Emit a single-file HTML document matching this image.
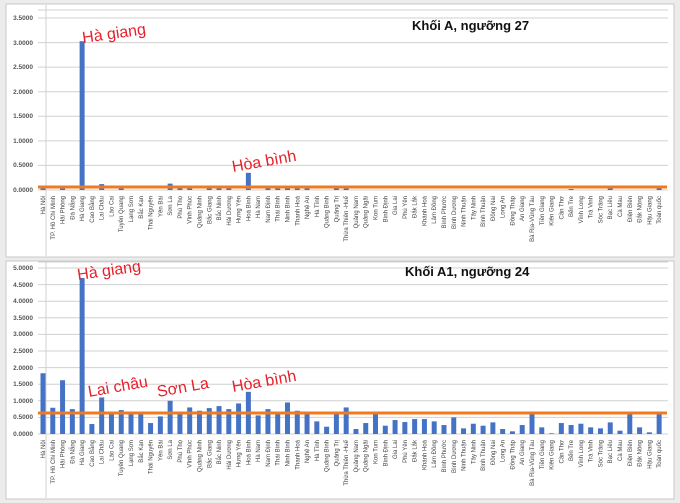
<!DOCTYPE html>
<html><head><meta charset="utf-8"><style>
body{margin:0;background:#ececec;}
svg{display:block;font-family:"Liberation Sans",sans-serif;}
.l text{font-size:6px;fill:#444;text-anchor:end;}
.y text{font-size:6.5px;fill:#555;font-weight:bold;text-anchor:end;}
.g line{stroke:#d0d0d0;stroke-width:1;}
.a{fill:#e8202a;font-size:16px;}
</style></head><body>
<svg width="680" height="503" viewBox="0 0 680 503">
<rect x="0" y="0" width="680" height="503" fill="#ececec"/>
<rect x="6" y="4" width="668" height="253" fill="#fff" stroke="#c8c8c8"/>
<rect x="6" y="261" width="668" height="238" fill="#fff" stroke="#c8c8c8"/>

<!-- TOP CHART -->
<g class="g">
<line x1="38" x2="668" y1="10" y2="10"/>
<line x1="38" x2="668" y1="18" y2="18"/><line x1="38" x2="668" y1="42.6" y2="42.6"/><line x1="38" x2="668" y1="67.1" y2="67.1"/><line x1="38" x2="668" y1="91.7" y2="91.7"/><line x1="38" x2="668" y1="116.3" y2="116.3"/><line x1="38" x2="668" y1="140.9" y2="140.9"/><line x1="38" x2="668" y1="165.4" y2="165.4"/><line x1="38" x2="668" y1="190" y2="190"/>
<line x1="46" x2="46" y1="5" y2="256" stroke="#999"/>
</g>
<g class="y">
<text x="33" y="20">3.5000</text><text x="33" y="45">3.0000</text><text x="33" y="69">2.5000</text><text x="33" y="94">2.0000</text><text x="33" y="118">1.5000</text><text x="33" y="143">1.0000</text><text x="33" y="167">0.5000</text><text x="33" y="192">0.0000</text>
</g>
<g transform="translate(40.5,190) scale(9.78,-49.1)" fill="#4472c4">
<rect x="0" width="0.51" height="0.03"/><rect x="2" width="0.51" height="0.03"/><rect x="4" width="0.51" height="3.03"/><rect x="6" width="0.51" height="0.12"/><rect x="8" width="0.51" height="0.03"/><rect x="13" width="0.51" height="0.13"/><rect x="14" width="0.51" height="0.03"/><rect x="15" width="0.51" height="0.03"/><rect x="17" width="0.51" height="0.03"/><rect x="18" width="0.51" height="0.03"/><rect x="19" width="0.51" height="0.03"/><rect x="21" width="0.51" height="0.35"/><rect x="23" width="0.51" height="0.03"/><rect x="24" width="0.51" height="0.03"/><rect x="25" width="0.51" height="0.03"/><rect x="26" width="0.51" height="0.03"/><rect x="27" width="0.51" height="0.03"/><rect x="30" width="0.51" height="0.03"/><rect x="31" width="0.51" height="0.03"/><rect x="54" width="0.51" height="0.02"/><rect x="58" width="0.51" height="0.03"/><rect x="63" width="0.51" height="0.03"/>
</g>
<line x1="38" x2="667" y1="187" y2="187" stroke="#f07a1f" stroke-width="3"/>
<text x="412" y="30" font-size="13" font-weight="bold" fill="#111">Khối A, ngưỡng 27</text>
<text class="a" x="83" y="43" transform="rotate(-8 83 43)">Hà giang</text>
<text class="a" x="233" y="172" transform="rotate(-10 233 172)">Hòa bình</text>
<g class="l" transform="translate(2,196)">
<text transform="translate(43) rotate(-90)">Hà Nội</text><text transform="translate(52.8) rotate(-90)">TP. Hồ Chí Minh</text><text transform="translate(62.6) rotate(-90)">Hải Phòng</text><text transform="translate(72.3) rotate(-90)">Đà Nẵng</text><text transform="translate(82.1) rotate(-90)">Hà Giang</text><text transform="translate(91.9) rotate(-90)">Cao Bằng</text><text transform="translate(101.7) rotate(-90)">Lai Châu</text><text transform="translate(111.5) rotate(-90)">Lào Cai</text><text transform="translate(121.2) rotate(-90)">Tuyên Quang</text><text transform="translate(131) rotate(-90)">Lạng Sơn</text><text transform="translate(140.8) rotate(-90)">Bắc Kạn</text><text transform="translate(150.6) rotate(-90)">Thái Nguyên</text><text transform="translate(160.4) rotate(-90)">Yên Bái</text><text transform="translate(170.1) rotate(-90)">Sơn La</text><text transform="translate(179.9) rotate(-90)">Phú Thọ</text><text transform="translate(189.7) rotate(-90)">Vĩnh Phúc</text><text transform="translate(199.5) rotate(-90)">Quảng Ninh</text><text transform="translate(209.3) rotate(-90)">Bắc Giang</text><text transform="translate(219) rotate(-90)">Bắc Ninh</text><text transform="translate(228.8) rotate(-90)">Hải Dương</text><text transform="translate(238.6) rotate(-90)">Hưng Yên</text><text transform="translate(248.4) rotate(-90)">Hoà Bình</text><text transform="translate(258.2) rotate(-90)">Hà Nam</text><text transform="translate(267.9) rotate(-90)">Nam Định</text><text transform="translate(277.7) rotate(-90)">Thái Bình</text><text transform="translate(287.5) rotate(-90)">Ninh Bình</text><text transform="translate(297.3) rotate(-90)">Thanh Hoá</text><text transform="translate(307.1) rotate(-90)">Nghệ An</text><text transform="translate(316.8) rotate(-90)">Hà Tĩnh</text><text transform="translate(326.6) rotate(-90)">Quảng Bình</text><text transform="translate(336.4) rotate(-90)">Quảng Trị</text><text transform="translate(346.2) rotate(-90)">Thừa Thiên -Huế</text><text transform="translate(356) rotate(-90)">Quảng Nam</text><text transform="translate(365.7) rotate(-90)">Quảng Ngãi</text><text transform="translate(375.5) rotate(-90)">Kon Tum</text><text transform="translate(385.3) rotate(-90)">Bình Định</text><text transform="translate(395.1) rotate(-90)">Gia Lai</text><text transform="translate(404.9) rotate(-90)">Phú Yên</text><text transform="translate(414.6) rotate(-90)">Đắk Lắk</text><text transform="translate(424.4) rotate(-90)">Khánh Hoà</text><text transform="translate(434.2) rotate(-90)">Lâm Đồng</text><text transform="translate(444) rotate(-90)">Bình Phước</text><text transform="translate(453.8) rotate(-90)">Bình Dương</text><text transform="translate(463.5) rotate(-90)">Ninh Thuận</text><text transform="translate(473.3) rotate(-90)">Tây Ninh</text><text transform="translate(483.1) rotate(-90)">Bình Thuận</text><text transform="translate(492.9) rotate(-90)">Đồng Nai</text><text transform="translate(502.7) rotate(-90)">Long An</text><text transform="translate(512.4) rotate(-90)">Đồng Tháp</text><text transform="translate(522.2) rotate(-90)">An Giang</text><text transform="translate(532) rotate(-90)">Bà Rịa-Vũng Tàu</text><text transform="translate(541.8) rotate(-90)">Tiền Giang</text><text transform="translate(551.6) rotate(-90)">Kiên Giang</text><text transform="translate(561.3) rotate(-90)">Cần Thơ</text><text transform="translate(571.1) rotate(-90)">Bến Tre</text><text transform="translate(580.9) rotate(-90)">Vĩnh Long</text><text transform="translate(590.7) rotate(-90)">Trà Vinh</text><text transform="translate(600.5) rotate(-90)">Sóc Trăng</text><text transform="translate(610.2) rotate(-90)">Bạc Liêu</text><text transform="translate(620) rotate(-90)">Cà Mau</text><text transform="translate(629.8) rotate(-90)">Điện Biên</text><text transform="translate(639.6) rotate(-90)">Đắk Nông</text><text transform="translate(649.4) rotate(-90)">Hậu Giang</text><text transform="translate(659.1) rotate(-90)">Toàn quốc</text>
</g>

<!-- BOTTOM CHART -->
<g class="g">
<line x1="38" x2="668" y1="262" y2="262"/>
<line x1="38" x2="668" y1="268" y2="268"/><line x1="38" x2="668" y1="284.6" y2="284.6"/><line x1="38" x2="668" y1="301.2" y2="301.2"/><line x1="38" x2="668" y1="317.8" y2="317.8"/><line x1="38" x2="668" y1="334.4" y2="334.4"/><line x1="38" x2="668" y1="351" y2="351"/><line x1="38" x2="668" y1="367.6" y2="367.6"/><line x1="38" x2="668" y1="384.2" y2="384.2"/><line x1="38" x2="668" y1="400.8" y2="400.8"/><line x1="38" x2="668" y1="417.4" y2="417.4"/><line x1="38" x2="668" y1="434" y2="434"/>
<line x1="46" x2="46" y1="262" y2="498" stroke="#999"/>
</g>
<g class="y">
<text x="33" y="270">5.0000</text><text x="33" y="287">4.5000</text><text x="33" y="303">4.0000</text><text x="33" y="320">3.5000</text><text x="33" y="336">3.0000</text><text x="33" y="353">2.5000</text><text x="33" y="370">2.0000</text><text x="33" y="386">1.5000</text><text x="33" y="403">1.0000</text><text x="33" y="419">0.5000</text><text x="33" y="436">0.0000</text>
</g>
<g transform="translate(40.5,434) scale(9.78,-33.2)" fill="#4472c4">
<rect x="0" width="0.51" height="1.83"/><rect x="1" width="0.51" height="0.79"/><rect x="2" width="0.51" height="1.62"/><rect x="3" width="0.51" height="0.75"/><rect x="4" width="0.51" height="4.7"/><rect x="5" width="0.51" height="0.3"/><rect x="6" width="0.51" height="1.1"/><rect x="7" width="0.51" height="0.6"/><rect x="8" width="0.51" height="0.72"/><rect x="9" width="0.51" height="0.6"/><rect x="10" width="0.51" height="0.6"/><rect x="11" width="0.51" height="0.33"/><rect x="12" width="0.51" height="0.53"/><rect x="13" width="0.51" height="1.0"/><rect x="14" width="0.51" height="0.6"/><rect x="15" width="0.51" height="0.8"/><rect x="16" width="0.51" height="0.7"/><rect x="17" width="0.51" height="0.78"/><rect x="18" width="0.51" height="0.84"/><rect x="19" width="0.51" height="0.75"/><rect x="20" width="0.51" height="0.92"/><rect x="21" width="0.51" height="1.27"/><rect x="22" width="0.51" height="0.56"/><rect x="23" width="0.51" height="0.75"/><rect x="24" width="0.51" height="0.6"/><rect x="25" width="0.51" height="0.95"/><rect x="26" width="0.51" height="0.7"/><rect x="27" width="0.51" height="0.6"/><rect x="28" width="0.51" height="0.38"/><rect x="29" width="0.51" height="0.22"/><rect x="30" width="0.51" height="0.6"/><rect x="31" width="0.51" height="0.8"/><rect x="32" width="0.51" height="0.15"/><rect x="33" width="0.51" height="0.33"/><rect x="34" width="0.51" height="0.6"/><rect x="35" width="0.51" height="0.25"/><rect x="36" width="0.51" height="0.42"/><rect x="37" width="0.51" height="0.36"/><rect x="38" width="0.51" height="0.45"/><rect x="39" width="0.51" height="0.45"/><rect x="40" width="0.51" height="0.38"/><rect x="41" width="0.51" height="0.27"/><rect x="42" width="0.51" height="0.5"/><rect x="43" width="0.51" height="0.17"/><rect x="44" width="0.51" height="0.31"/><rect x="45" width="0.51" height="0.25"/><rect x="46" width="0.51" height="0.35"/><rect x="47" width="0.51" height="0.15"/><rect x="48" width="0.51" height="0.08"/><rect x="49" width="0.51" height="0.27"/><rect x="50" width="0.51" height="0.6"/><rect x="51" width="0.51" height="0.2"/><rect x="52" width="0.51" height="0.02"/><rect x="53" width="0.51" height="0.33"/><rect x="54" width="0.51" height="0.27"/><rect x="55" width="0.51" height="0.31"/><rect x="56" width="0.51" height="0.2"/><rect x="57" width="0.51" height="0.17"/><rect x="58" width="0.51" height="0.35"/><rect x="59" width="0.51" height="0.1"/><rect x="60" width="0.51" height="0.6"/><rect x="61" width="0.51" height="0.2"/><rect x="62" width="0.51" height="0.05"/><rect x="63" width="0.51" height="0.63"/>
</g>
<line x1="38" x2="667" y1="413" y2="413" stroke="#f07a1f" stroke-width="3"/>
<text x="405" y="276" font-size="13" font-weight="bold" fill="#111">Khối A1, ngưỡng 24</text>
<text class="a" x="78" y="280" transform="rotate(-8 78 280)">Hà giang</text>
<text class="a" x="89" y="397" transform="rotate(-10 89 397)">Lai châu</text>
<text class="a" x="158" y="397" transform="rotate(-10 158 397)">Sơn La</text>
<text class="a" x="233" y="392" transform="rotate(-10 233 392)">Hòa bình</text>
<g class="l" transform="translate(2,440)">
<text transform="translate(43) rotate(-90)">Hà Nội</text><text transform="translate(52.8) rotate(-90)">TP. Hồ Chí Minh</text><text transform="translate(62.6) rotate(-90)">Hải Phòng</text><text transform="translate(72.3) rotate(-90)">Đà Nẵng</text><text transform="translate(82.1) rotate(-90)">Hà Giang</text><text transform="translate(91.9) rotate(-90)">Cao Bằng</text><text transform="translate(101.7) rotate(-90)">Lai Châu</text><text transform="translate(111.5) rotate(-90)">Lào Cai</text><text transform="translate(121.2) rotate(-90)">Tuyên Quang</text><text transform="translate(131) rotate(-90)">Lạng Sơn</text><text transform="translate(140.8) rotate(-90)">Bắc Kạn</text><text transform="translate(150.6) rotate(-90)">Thái Nguyên</text><text transform="translate(160.4) rotate(-90)">Yên Bái</text><text transform="translate(170.1) rotate(-90)">Sơn La</text><text transform="translate(179.9) rotate(-90)">Phú Thọ</text><text transform="translate(189.7) rotate(-90)">Vĩnh Phúc</text><text transform="translate(199.5) rotate(-90)">Quảng Ninh</text><text transform="translate(209.3) rotate(-90)">Bắc Giang</text><text transform="translate(219) rotate(-90)">Bắc Ninh</text><text transform="translate(228.8) rotate(-90)">Hải Dương</text><text transform="translate(238.6) rotate(-90)">Hưng Yên</text><text transform="translate(248.4) rotate(-90)">Hoà Bình</text><text transform="translate(258.2) rotate(-90)">Hà Nam</text><text transform="translate(267.9) rotate(-90)">Nam Định</text><text transform="translate(277.7) rotate(-90)">Thái Bình</text><text transform="translate(287.5) rotate(-90)">Ninh Bình</text><text transform="translate(297.3) rotate(-90)">Thanh Hoá</text><text transform="translate(307.1) rotate(-90)">Nghệ An</text><text transform="translate(316.8) rotate(-90)">Hà Tĩnh</text><text transform="translate(326.6) rotate(-90)">Quảng Bình</text><text transform="translate(336.4) rotate(-90)">Quảng Trị</text><text transform="translate(346.2) rotate(-90)">Thừa Thiên -Huế</text><text transform="translate(356) rotate(-90)">Quảng Nam</text><text transform="translate(365.7) rotate(-90)">Quảng Ngãi</text><text transform="translate(375.5) rotate(-90)">Kon Tum</text><text transform="translate(385.3) rotate(-90)">Bình Định</text><text transform="translate(395.1) rotate(-90)">Gia Lai</text><text transform="translate(404.9) rotate(-90)">Phú Yên</text><text transform="translate(414.6) rotate(-90)">Đắk Lắk</text><text transform="translate(424.4) rotate(-90)">Khánh Hoà</text><text transform="translate(434.2) rotate(-90)">Lâm Đồng</text><text transform="translate(444) rotate(-90)">Bình Phước</text><text transform="translate(453.8) rotate(-90)">Bình Dương</text><text transform="translate(463.5) rotate(-90)">Ninh Thuận</text><text transform="translate(473.3) rotate(-90)">Tây Ninh</text><text transform="translate(483.1) rotate(-90)">Bình Thuận</text><text transform="translate(492.9) rotate(-90)">Đồng Nai</text><text transform="translate(502.7) rotate(-90)">Long An</text><text transform="translate(512.4) rotate(-90)">Đồng Tháp</text><text transform="translate(522.2) rotate(-90)">An Giang</text><text transform="translate(532) rotate(-90)">Bà Rịa-Vũng Tàu</text><text transform="translate(541.8) rotate(-90)">Tiền Giang</text><text transform="translate(551.6) rotate(-90)">Kiên Giang</text><text transform="translate(561.3) rotate(-90)">Cần Thơ</text><text transform="translate(571.1) rotate(-90)">Bến Tre</text><text transform="translate(580.9) rotate(-90)">Vĩnh Long</text><text transform="translate(590.7) rotate(-90)">Trà Vinh</text><text transform="translate(600.5) rotate(-90)">Sóc Trăng</text><text transform="translate(610.2) rotate(-90)">Bạc Liêu</text><text transform="translate(620) rotate(-90)">Cà Mau</text><text transform="translate(629.8) rotate(-90)">Điện Biên</text><text transform="translate(639.6) rotate(-90)">Đắk Nông</text><text transform="translate(649.4) rotate(-90)">Hậu Giang</text><text transform="translate(659.1) rotate(-90)">Toàn quốc</text>
</g>
</svg>
</body></html>
